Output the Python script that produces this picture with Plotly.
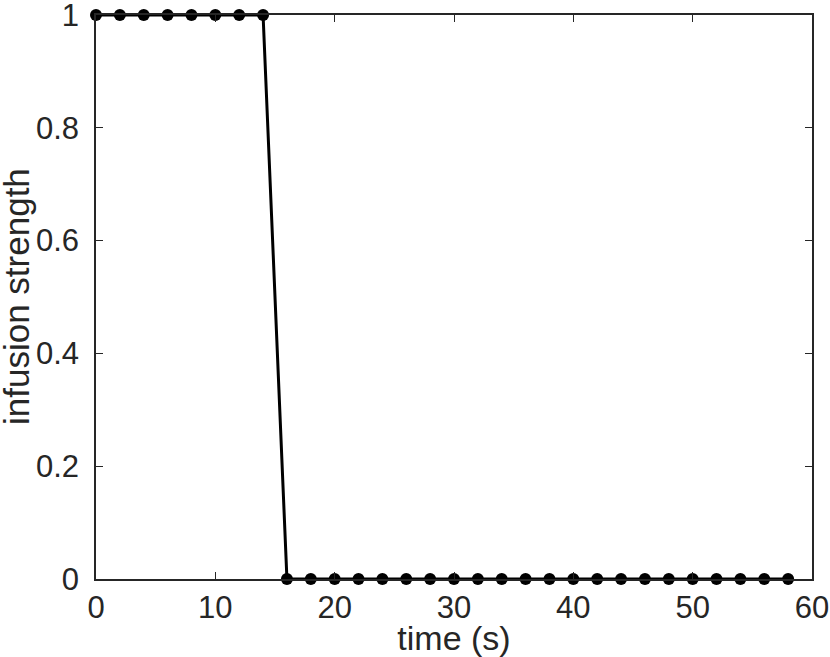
import plotly.graph_objects as go

time_s = [0, 2, 4, 6, 8, 10, 12, 14, 16, 18, 20, 22, 24, 26, 28, 30, 32, 34, 36, 38, 40, 42, 44, 46, 48, 50, 52, 54, 56, 58]
strength = [1, 1, 1, 1, 1, 1, 1, 1] + [0] * 22
x_ticks = [0, 10, 20, 30, 40, 50, 60]
y_ticks = [0, 0.2, 0.4, 0.6, 0.8, 1]
y_tick_labels = ["0", "0.2", "0.4", "0.6", "0.8", "1"]

FONT = "Liberation Sans, Arial, Helvetica, sans-serif"
TXT = "#262626"

fig = go.Figure()
fig.add_trace(go.Scatter(
    x=time_s, y=strength, mode="lines+markers",
    line=dict(color="black", width=3),
    marker=dict(color="black", size=12),
    cliponaxis=False, showlegend=False,
))

axis_common = dict(
    showline=True, linecolor=TXT, linewidth=1.5, mirror="ticks",
    ticks="inside", ticklen=7, tickwidth=1, tickcolor=TXT,
    showgrid=False, zeroline=False, automargin=False,
    ticklabeloverflow="allow",
    tickfont=dict(family=FONT, size=31, color=TXT),
)

fig.update_xaxes(range=[0, 60], tickvals=x_ticks, ticklabelstandoff=0,
                 title=dict(text="time (s)", font=dict(family=FONT, size=34, color=TXT), standoff=0),
                 **axis_common)
fig.update_yaxes(range=[0, 1], tickvals=y_ticks, ticktext=y_tick_labels, ticklabelstandoff=9,
                 **axis_common)

fig.add_annotation(
    text="infusion strength", textangle=-90,
    xref="paper", yref="paper", x=0, y=0.5,
    xanchor="center", yanchor="middle", xshift=-80,
    showarrow=False, font=dict(family=FONT, size=35, color=TXT),
)

fig.update_layout(
    template="none",
    width=830, height=657,
    margin=dict(l=96, r=18, t=15, b=78),
    plot_bgcolor="white", paper_bgcolor="white",
)

fig.write_html("out.html", config={"displayModeBar": False},
               post_script="document.body.style.margin='0';")
